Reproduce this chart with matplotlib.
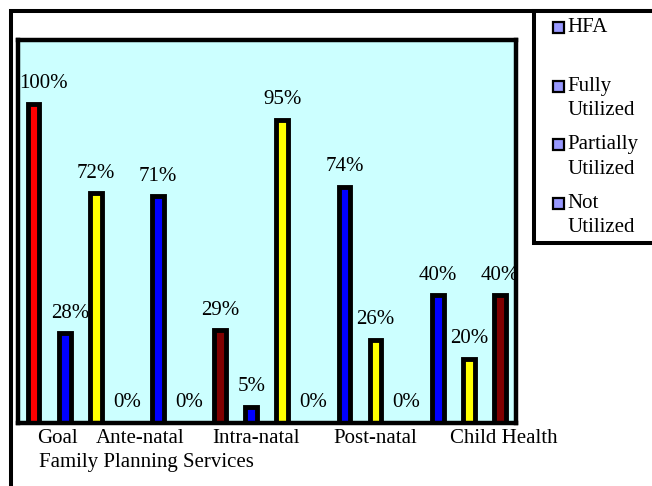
import numpy as np
import matplotlib.pyplot as plt
import matplotlib.transforms as mtransforms
from matplotlib.patches import Rectangle

plt.rcParams['font.family'] = ['Liberation Serif', 'DejaVu Serif']

# data
categories = ["Goal", "Family Planning Services", "Ante-natal", "Intra-natal", "Post-natal", "Child Health"]
series = ["HFA", "Fully Utilized", "Partially Utilized", "Not Utilized"]
hfa = [100]
fully = [28, 71, 5, 74, 40]
partially = [72, 0, 95, 26, 20]
not_utilized = [0, 29, 0, 0, 40]

colors = ['#FF0000', '#0000FF', '#FFFF00', '#800000']

W, H = 652, 486
fig = plt.figure(figsize=(W / 100, H / 100), dpi=100)

def fx(px):
    return px / W

def fy(py):
    return 1 - py / H

# outer chart frame (runs off the right and bottom edges)
fig.add_artist(Rectangle((fx(11), -0.2), 1.5, fy(11) + 0.2, transform=fig.transFigure,
                         fill=False, lw=2.9, edgecolor='black'))

ax = fig.add_axes([fx(18), fy(422.5), fx(515.5) - fx(18), fy(40) - fy(422.5)])
ax.set_facecolor('#CCFFFF')
for s in ax.spines.values():
    s.set_linewidth(3.2)
    s.set_color('black')

# bar layout: Goal gets one HFA bar, each service gets three bars
xs, vals, cols = [], [], []
xs.append(0)
vals.append(hfa[0])
cols.append(colors[0])
for k in range(len(fully)):
    for j, arr in enumerate([fully, partially, not_utilized]):
        xs.append(1 + 3 * k + j)
        vals.append(arr[k])
        cols.append(colors[j + 1])

for i, (x, v, c) in enumerate(zip(xs, vals, cols)):
    if v > 0:
        ax.bar(x, v, width=0.38, color=c, edgecolor='black', linewidth=3.5, zorder=2)
    dx = 7.5 if i == 0 else (4.3 if i == 1 else 0)
    ax.annotate(f"{v}%", (x, v), xytext=(dx, 14.4), textcoords='offset points',
                ha='center', va='center', fontsize=15, zorder=3)

ax.set_xlim(-0.5, 15.5)
ax.set_ylim(0, 120)
ax.set_xticks([])
ax.set_yticks([])

# category labels (staggered as in the original)
label_x = [0.76, 3.63, 3.42, 7.15, 10.98, 15.13]
label_row = [0, 1, 0, 0, 0, 0]
trans = mtransforms.blended_transform_factory(ax.transData, ax.transAxes)
for name, lx, row in zip(categories, label_x, label_row):
    ax.annotate(name, (lx, 0), xycoords=trans, xytext=(0, -11.2 - 17.3 * row),
                textcoords='offset points', ha='center', va='center',
                fontsize=15, annotation_clip=False)

# legend box
fig.add_artist(Rectangle((fx(534), fy(243)), 1.0, fy(11) - fy(243), transform=fig.transFigure,
                         facecolor='white', edgecolor='black', lw=2.9, zorder=5))
for i, name in enumerate(series):
    y0 = 28 + 58.5 * i
    fig.add_artist(Rectangle((fx(553), fy(y0 + 5.5)), fx(11), fy(y0 - 5.5) - fy(y0 + 5.5),
                             transform=fig.transFigure, facecolor='#9999FF',
                             edgecolor='black', lw=1.6, zorder=6))
    for r, line in enumerate(name.split(' ')):
        fig.text(fx(567), fy(y0 + 24 * r), line, ha='left', va='center',
                 fontsize=15, zorder=7)

fig.savefig('out.png', dpi=100)
